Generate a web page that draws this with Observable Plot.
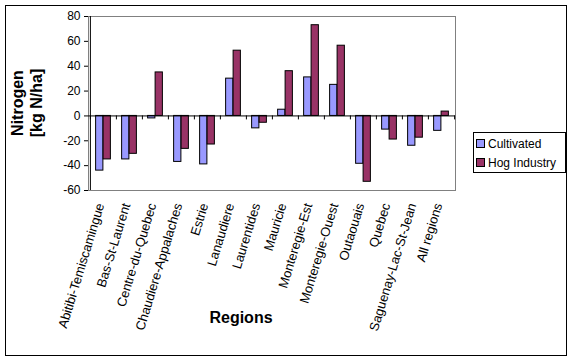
<!DOCTYPE html>
<html>
<head>
<meta charset="utf-8">
<script src="https://cdn.jsdelivr.net/npm/d3@7"></script>
<script src="https://cdn.jsdelivr.net/npm/@observablehq/plot@0.6"></script>
<style>
  html, body { margin: 0; padding: 0; background: #fff; }
  #wrap { position: relative; width: 575px; height: 362px; font-family: "Liberation Sans", Arial, sans-serif; }
  #wrap svg { position: absolute; left: 0; top: 0; }
  .border { position: absolute; left: 5px; top: 5px; width: 562px; height: 351px; border: 1px solid #000; box-sizing: border-box; }
  .ylab { position: absolute; left: 27px; top: 103px; transform: translate(-50%, -50%) rotate(-90deg); font-weight: bold; font-size: 16px; line-height: 19px; text-align: center; white-space: nowrap; }
  .xlab { position: absolute; left: 241px; top: 318px; transform: translate(-50%, -50%); font-weight: bold; font-size: 16px; }
  .legend { position: absolute; left: 473px; top: 132px; width: 93px; height: 41px; border: 1px solid #000; box-sizing: border-box; background: #fff; font-size: 12px; }
  .legend .row { position: absolute; left: 2px; height: 16px; line-height: 16px; white-space: nowrap; }
  .legend .sw { display: inline-block; width: 7px; height: 7px; border: 1px solid #000; margin-right: 3px; vertical-align: 0px; }
</style>
</head>
<body>
<div id="wrap"></div>
<script>
const regions = ["Abitibi-Temiscamingue", "Bas-St-Laurent", "Centre-du-Quebec", "Chaudiere-Appalaches", "Estrie", "Lanaudiere", "Laurentides", "Mauricie", "Monteregie-Est", "Monteregie-Ouest", "Outaouais", "Quebec", "Saguenay-Lac-St-Jean", "All regions"];
const cultivated = [-44, -35, -2, -37, -39, 30, -10, 5, 31, 25, -38.5, -11, -24, -12];
const hogIndustry = [-35, -30.5, 35, -26.5, -23, 52.5, -5.5, 36, 73, 56.5, -53, -19, -17.5, 3.5];
const yTicks = [-60, -40, -20, 0, 20, 40, 60, 80];
const seriesNames = ["Cultivated", "Hog Industry"];
const colors = ["#9999FF", "#993366"];

const rows = regions.map((r, i) => ({region: r, cultivated: cultivated[i], hog: hogIndustry[i]}));

const W = 575, H = 362;
const mL = 88, mR = 120, mT = 16, mB = 172;
const step = (W - mL - mR) / regions.length;
const barW = step / 3.5;
const outer = (step - 2 * barW) / 2;

const chart = Plot.plot({
  width: W, height: H,
  marginLeft: mL, marginRight: mR, marginTop: mT, marginBottom: mB,
  style: {fontFamily: "'Liberation Sans', Arial, sans-serif", background: "transparent", overflow: "visible"},
  x: {type: "band", domain: regions, padding: 0, label: null, axis: null},
  y: {domain: [-60, 80], label: null},
  marks: [
    Plot.frame({stroke: "#808080"}),
    Plot.barY(rows, {x: "region", y: "cultivated", fill: colors[0], stroke: "#000", strokeWidth: 1, insetLeft: outer, insetRight: outer + barW}),
    Plot.barY(rows, {x: "region", y: "hog", fill: colors[1], stroke: "#000", strokeWidth: 1, insetLeft: outer + barW, insetRight: outer}),
    Plot.ruleY([0], {stroke: "#000"}),
    Plot.ruleX(regions, {x: d => d, y1: 0, y2: -3.2, dx: -step / 2, stroke: "#000"}),
    Plot.ruleX([regions[regions.length - 1]], {x: d => d, y1: 0, y2: -3.2, dx: step / 2, stroke: "#000"}),
    Plot.ruleX([regions[0]], {x: d => d, dx: -step / 2, stroke: "#000"}),
    Plot.axisY({ticks: yTicks, tickFormat: d => String(d), tickSize: 4, tickPadding: 4, fontSize: 12, stroke: "#000", fill: "#000", label: null}),
    Plot.text(regions, {x: d => d, text: d => d, frameAnchor: "bottom", rotate: -73, textAnchor: "end", lineAnchor: "middle", dy: 13, dx: -3, fontSize: 13, fill: "#000"})
  ]
});

const wrap = document.getElementById("wrap");
wrap.appendChild(chart);

const border = document.createElement("div");
border.className = "border";
wrap.appendChild(border);

const yl = document.createElement("div");
yl.className = "ylab";
yl.innerHTML = "Nitrogen<br>[kg N/ha]";
wrap.appendChild(yl);

const xl = document.createElement("div");
xl.className = "xlab";
xl.textContent = "Regions";
wrap.appendChild(xl);

const lg = document.createElement("div");
lg.className = "legend";
seriesNames.forEach((s, i) => {
  const r = document.createElement("div");
  r.className = "row";
  r.style.top = (3 + i * 19) + "px";
  r.innerHTML = `<span class="sw" style="background:${colors[i]}"></span>${s}`;
  lg.appendChild(r);
});
wrap.appendChild(lg);
</script>
</body>
</html>
